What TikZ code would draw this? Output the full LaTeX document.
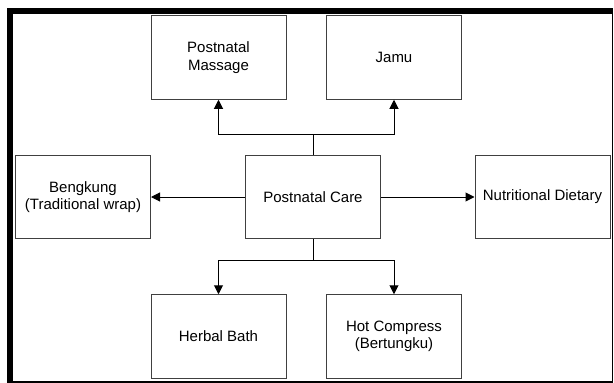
\documentclass[tikz,border=0pt]{standalone}
\usepackage{fontspec}
\setmainfont{Liberation Sans}
\usetikzlibrary{arrows.meta}
\begin{document}
\begin{tikzpicture}[x=1pt,y=-1pt,
  box/.style={draw=black!75, line width=1pt, minimum width=135pt, minimum height=83.5pt,
    inner sep=0pt, align=center, font=\fontsize{15}{17.5}\selectfont},
  link/.style={draw=black, line width=1pt},
  arrowlink/.style={link, -{Triangle[length=9pt,width=9pt]}}]
\useasboundingbox (0,0) rectangle (614,383);
% page frame: heavy left and top edges, thin right and bottom edges
\draw[line width=1.5pt] (10,381.8) -- (612.3,381.8) -- (612.3,11);
\fill (7,8) rectangle (13,383);
\fill (7,8) rectangle (613,14);

% boxes
\node[box] (massage)  at (218.5,57.5) {Postnatal\\Massage};
\node[box] (jamu)     at (394,57.5)   {Jamu};
\node[box] (bengkung) at (83,197)     {Bengkung\\(Traditional wrap)};
\node[box] (care)     at (313,197)    {Postnatal Care};
\node[box] (diet)     at (542.5,197)  {Nutritional Dietary};
\node[box] (bath)     at (218.5,336.5) {Herbal Bath};
\node[box] (compress) at (394,336.5)  {Hot Compress\\(Bertungku)};

% connectors
\coordinate (topj) at (313,134.5);
\coordinate (botj) at (313,260);
\draw[link] (care.north) -- (topj);
\draw[arrowlink] (topj) -| (massage.south);
\draw[arrowlink] (topj) -| (jamu.south);
\draw[link] (care.south) -- (botj);
\draw[arrowlink] (botj) -| (bath.north);
\draw[arrowlink] (botj) -| (compress.north);
\draw[arrowlink] (care.west) -- (bengkung.east);
\draw[arrowlink] (care.east) -- (diet.west);
\end{tikzpicture}
\end{document}
